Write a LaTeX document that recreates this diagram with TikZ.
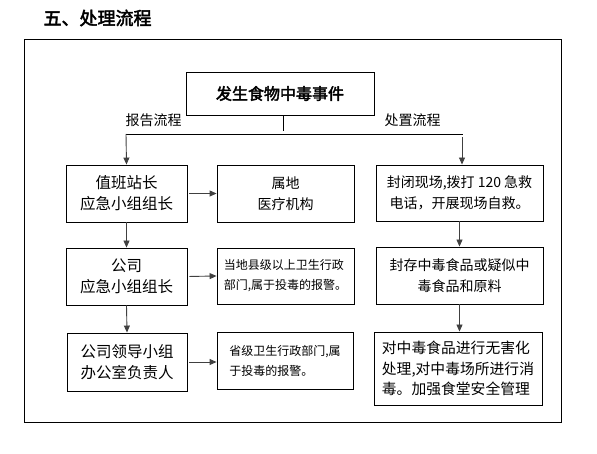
\documentclass[tikz,border=0pt]{standalone}
\usepackage{fontspec}
\setmainfont{Noto Sans CJK SC}[AutoFakeBold=2.5]
\usetikzlibrary{arrows.meta}
\begin{document}
\begin{tikzpicture}[x=1pt,y=-1pt,
  box/.style={draw=black,line width=0.9pt,inner sep=2pt,align=center},
  arr/.style={draw=black!75,line width=0.9pt,-{Triangle[length=7pt,width=6pt]}},
  ln/.style={draw=black,line width=0.9pt},
  fa/.style={font=\fontsize{15.5}{21}\selectfont},
  fb/.style={font=\fontsize{14}{21}\selectfont},
  fc/.style={font=\fontsize{12}{20}\selectfont},
  fd/.style={font=\fontsize{14}{20.5}\selectfont}]
\useasboundingbox (0,0) rectangle (597,454);
\node[anchor=west,font=\fontsize{18}{20}\selectfont\bfseries] (title) at (40,18) {五、处理流程};
\draw[line width=0.9pt] (24,39) rectangle (561,422);
\node[box,minimum width=188pt,minimum height=43pt,font=\fontsize{16}{20}\selectfont\bfseries] (top) at (280,93.5) {发生食物中毒事件};
\node[box,fa,minimum width=121pt,minimum height=57pt] (b1) at (126.5,193.5) {值班站长\\应急小组组长};
\node[box,fa,minimum width=121pt,minimum height=57pt] (b2) at (126.5,276.5) {公司\\应急小组组长};
\node[box,fa,minimum width=120pt,minimum height=58pt] (b3) at (127,362) {公司领导小组\\办公室负责人};
\node[box,fb,minimum width=137pt,minimum height=57pt] (m1) at (285.5,193.5) {属地\\医疗机构};
\node[box,fc,minimum width=137pt,minimum height=56pt,align=left] (m2) at (285.5,276) {当地县级以上卫生行政\\部门,属于投毒的报警。};
\node[box,fc,minimum width=136pt,minimum height=57pt,align=left] (m3) at (285,360.5) {省级卫生行政部门,属\\于投毒的报警。};
\node[box,fd,minimum width=167pt,minimum height=56pt] (r1) at (459.5,193) {封闭现场,拨打 120 急救\\电话，开展现场自救。};
\node[box,fd,minimum width=167pt,minimum height=57pt] (r2) at (459.5,275.5) {封存中毒食品或疑似中\\毒食品和原料};
\node[box,font=\fontsize{14.8}{20.5}\selectfont,minimum width=168pt,minimum height=73pt,align=left] (r3) at (458,368.5) {对中毒食品进行无害化\\处理,对中毒场所进行消\\毒。加强食堂安全管理};
\node[font=\fontsize{14}{16}\selectfont,anchor=west] (lab1) at (122,120) {报告流程};
\node[font=\fontsize{14}{16}\selectfont,anchor=west] (lab2) at (381,120) {处置流程};
\coordinate (jc) at (283,134);
\coordinate (jl) at (126,134);
\coordinate (jr) at (463,134);
\coordinate (jr2) at (462,137);
\draw[ln] (top.south -| jc) -- ([yshift=3pt]jc);
\draw[ln] (jl) -- (jr);
\draw[arr] (jl) -- (b1.north);
\draw[arr] (jr2) -- (jr2 |- r1.north);
\draw[arr] (b1.south) -- (b2.north);
\draw[arr] (b2.south) -- (b3.north);
\draw[arr,shorten <=2pt] (b1.east) -- (m1.west);
\draw[arr,shorten <=2pt] (b2.east) -- (m2.west);
\draw[arr,shorten <=2pt] (b3.east) -- (b3.east -| m3.west);
\draw[arr] (r1.south) -- (r2.north);
\draw[arr] (r2.south) -- (r2.south |- r3.north);
\end{tikzpicture}
\end{document}
